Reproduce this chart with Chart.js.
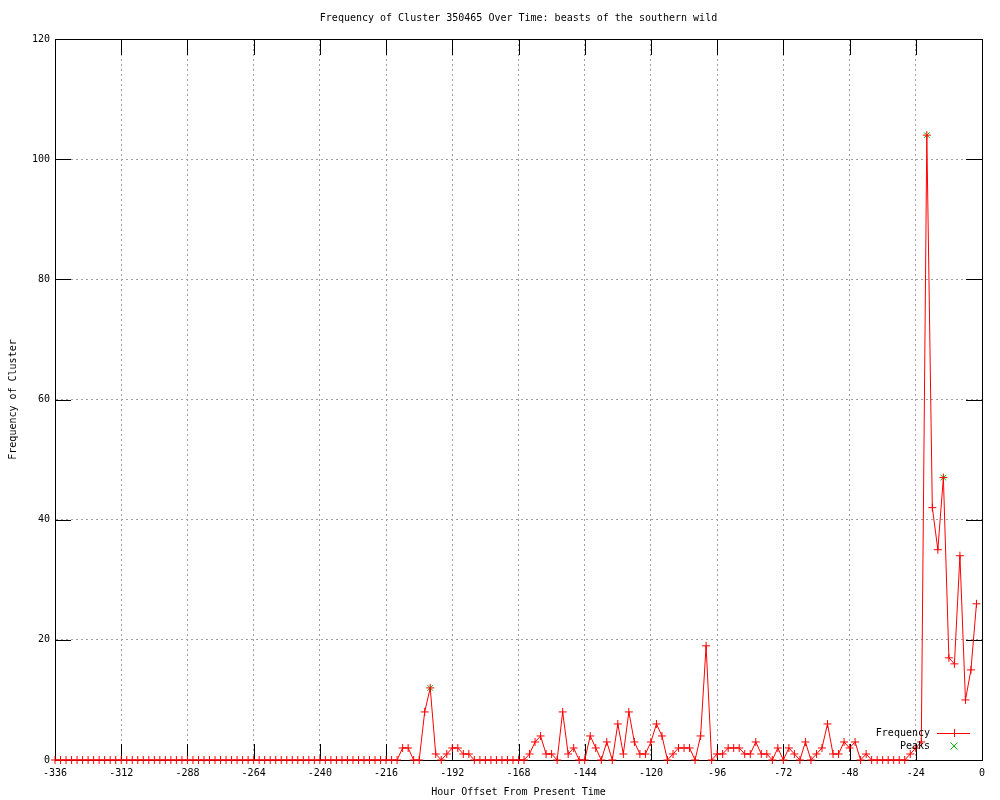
<!DOCTYPE html>
<html>
<head>
<meta charset="utf-8">
<title>Frequency of Cluster 350465 Over Time</title>
<script src="https://cdn.jsdelivr.net/npm/chart.js@4/dist/chart.umd.min.js"></script>
<style>
  html, body { margin: 0; padding: 0; background: #fff; }
  canvas { display: block; }
</style>
</head>
<body>
<canvas id="chart" width="1000" height="800"></canvas>
<script>
// hour offsets, one sample every 2 hours
const hours = [
  -336, -334, -332, -330, -328, -326, -324, -322, -320, -318, -316, -314,
  -312, -310, -308, -306, -304, -302, -300, -298, -296, -294, -292, -290,
  -288, -286, -284, -282, -280, -278, -276, -274, -272, -270, -268, -266,
  -264, -262, -260, -258, -256, -254, -252, -250, -248, -246, -244, -242,
  -240, -238, -236, -234, -232, -230, -228, -226, -224, -222, -220, -218,
  -216, -214, -212, -210, -208, -206, -204, -202, -200, -198, -196, -194,
  -192, -190, -188, -186, -184, -182, -180, -178, -176, -174, -172, -170,
  -168, -166, -164, -162, -160, -158, -156, -154, -152, -150, -148, -146,
  -144, -142, -140, -138, -136, -134, -132, -130, -128, -126, -124, -122,
  -120, -118, -116, -114, -112, -110, -108, -106, -104, -102, -100, -98,
  -96, -94, -92, -90, -88, -86, -84, -82, -80, -78, -76, -74,
  -72, -70, -68, -66, -64, -62, -60, -58, -56, -54, -52, -50,
  -48, -46, -44, -42, -40, -38, -36, -34, -32, -30, -28, -26,
  -24, -22, -20, -18, -16, -14, -12, -10, -8, -6, -4, -2
];
const frequency = [
  0, 0, 0, 0, 0, 0, 0, 0, 0, 0, 0, 0,       // -336 .. -314
  0, 0, 0, 0, 0, 0, 0, 0, 0, 0, 0, 0,       // -312 .. -290
  0, 0, 0, 0, 0, 0, 0, 0, 0, 0, 0, 0,       // -288 .. -266
  0, 0, 0, 0, 0, 0, 0, 0, 0, 0, 0, 0,       // -264 .. -242
  0, 0, 0, 0, 0, 0, 0, 0, 0, 0, 0, 0,       // -240 .. -218
  0, 0, 0, 2, 2, 0, 0, 8, 12, 1, 0, 1,      // -216 .. -194
  2, 2, 1, 1, 0, 0, 0, 0, 0, 0, 0, 0,       // -192 .. -170
  0, 0, 1, 3, 4, 1, 1, 0, 8, 1, 2, 0,       // -168 .. -146
  0, 4, 2, 0, 3, 0, 6, 1, 8, 3, 1, 1,       // -144 .. -122
  3, 6, 4, 0, 1, 2, 2, 2, 0, 4, 19, 0,      // -120 .. -98
  1, 1, 2, 2, 2, 1, 1, 3, 1, 1, 0, 2,       // -96 .. -74
  0, 2, 1, 0, 3, 0, 1, 2, 6, 1, 1, 3,       // -72 .. -50
  2, 3, 0, 1, 0, 0, 0, 0, 0, 0, 0, 1,       // -48 .. -26
  2, 3, 104, 42, 35, 47, 17, 16, 34, 10, 15, 26  // -24 .. -2
];
const peakHours = [-200, -20, -14];
const peakValues = [12, 104, 47];

const xTicks = [-336, -312, -288, -264, -240, -216, -192, -168, -144, -120, -96, -72, -48, -24, 0];
const yTicks = [0, 20, 40, 60, 80, 100, 120];
const chartTitle = 'Frequency of Cluster 350465 Over Time: beasts of the southern wild';

const FONT = 'DejaVu Sans Mono';
const FSIZE = 10;
const RED = '#ff0000';
const GREEN = '#00c000';

// gnuplot-like frame: inward tick marks on all four sides, plus a black border
const framePlugin = {
  id: 'frame',
  beforeDatasetsDraw(chart) {
    const { ctx, chartArea: a, scales } = chart;
    const len = 16;
    ctx.save();
    ctx.strokeStyle = '#000';
    ctx.lineWidth = 1;
    ctx.beginPath();
    scales.x.ticks.forEach(t => {
      const px = Math.round(scales.x.getPixelForValue(t.value)) + 0.5;
      ctx.moveTo(px, a.bottom); ctx.lineTo(px, a.bottom - len);
      ctx.moveTo(px, a.top); ctx.lineTo(px, a.top + len);
    });
    scales.y.ticks.forEach(t => {
      const py = Math.round(scales.y.getPixelForValue(t.value)) + 0.5;
      ctx.moveTo(a.left, py); ctx.lineTo(a.left + len, py);
      ctx.moveTo(a.right, py); ctx.lineTo(a.right - len, py);
    });
    ctx.stroke();
    ctx.strokeRect(Math.round(a.left) + 0.5, Math.round(a.top) + 0.5,
                   Math.round(a.right - a.left), Math.round(a.bottom - a.top));
    ctx.restore();
  },
  afterDraw(chart) {
    const { ctx, chartArea: a } = chart;
    const ds = chart.data.datasets;
    ctx.save();
    ctx.font = FSIZE + 'px "' + FONT + '"';
    ctx.fillStyle = '#000';
    ctx.textBaseline = 'middle';
    // title, centred over the plot area
    ctx.textAlign = 'center';
    ctx.fillText(chartTitle, (a.left + a.right) / 2, a.top - 21);
    // key in the lower right corner, like gnuplot's
    const textX = a.right - 52, sx = a.right - 28;
    const rows = [a.bottom - 27, a.bottom - 14];
    ctx.textAlign = 'right';
    ds.forEach((d, i) => ctx.fillText(d.label, textX, rows[i]));
    ctx.strokeStyle = RED;
    ctx.lineWidth = 1;
    ctx.beginPath();
    ctx.moveTo(a.right - 45, rows[0] + 0.5); ctx.lineTo(a.right - 12, rows[0] + 0.5);
    ctx.moveTo(sx - 4, rows[0] + 0.5); ctx.lineTo(sx + 4, rows[0] + 0.5);
    ctx.moveTo(sx + 0.5, rows[0] - 4); ctx.lineTo(sx + 0.5, rows[0] + 4);
    ctx.stroke();
    ctx.strokeStyle = GREEN;
    ctx.beginPath();
    ctx.moveTo(sx - 3.5, rows[1] - 3.5); ctx.lineTo(sx + 3.5, rows[1] + 3.5);
    ctx.moveTo(sx + 3.5, rows[1] - 3.5); ctx.lineTo(sx - 3.5, rows[1] + 3.5);
    ctx.stroke();
    ctx.restore();
  }
};

new Chart(document.getElementById('chart'), {
  type: 'scatter',
  data: {
    datasets: [
      {
        label: 'Frequency',
        data: hours.map((h, i) => ({ x: h, y: frequency[i] })),
        showLine: true,
        borderColor: RED,
        backgroundColor: RED,
        borderWidth: 1,
        pointStyle: 'cross',
        pointRadius: 4,
        pointBorderWidth: 1,
        tension: 0,
        clip: false
      },
      {
        label: 'Peaks',
        data: peakHours.map((h, i) => ({ x: h, y: peakValues[i] })),
        showLine: false,
        borderColor: GREEN,
        backgroundColor: GREEN,
        pointStyle: 'crossRot',
        pointRadius: 4,
        pointBorderWidth: 1,
        clip: false
      }
    ]
  },
  options: {
    responsive: false,
    animation: false,
    layout: { padding: { left: 0, right: 18, top: 39, bottom: 0 } },
    scales: {
      x: {
        type: 'linear',
        min: -336,
        max: 0,
        afterBuildTicks: s => { s.ticks = xTicks.map(v => ({ value: v })); },
        afterFit: s => { s.height = 40; },
        ticks: {
          color: '#000',
          padding: 7,
          maxRotation: 0,
          font: { family: FONT, size: FSIZE },
          callback: v => String(v)
        },
        grid: { color: '#a0a0a0', drawTicks: false, lineWidth: 1 },
        border: { display: true, color: '#000', dash: [2, 3] },
        title: {
          display: true,
          text: 'Hour Offset From Present Time',
          color: '#000',
          font: { family: FONT, size: FSIZE },
          padding: { top: 0, bottom: 2 }
        }
      },
      y: {
        min: 0,
        max: 120,
        afterBuildTicks: s => { s.ticks = yTicks.map(v => ({ value: v })); },
        afterFit: s => { s.width = 55; },
        ticks: {
          color: '#000',
          padding: 5,
          font: { family: FONT, size: FSIZE },
          callback: v => String(v)
        },
        grid: { color: '#a0a0a0', drawTicks: false, lineWidth: 1 },
        border: { display: true, color: '#000', dash: [2, 3] },
        title: {
          display: true,
          text: 'Frequency of Cluster',
          color: '#000',
          font: { family: FONT, size: FSIZE },
          padding: { top: 7, bottom: 0 }
        }
      }
    },
    plugins: {
      legend: { display: false },
      tooltip: { enabled: false },
      title: { display: false }
    }
  },
  plugins: [framePlugin]
});
</script>
</body>
</html>
